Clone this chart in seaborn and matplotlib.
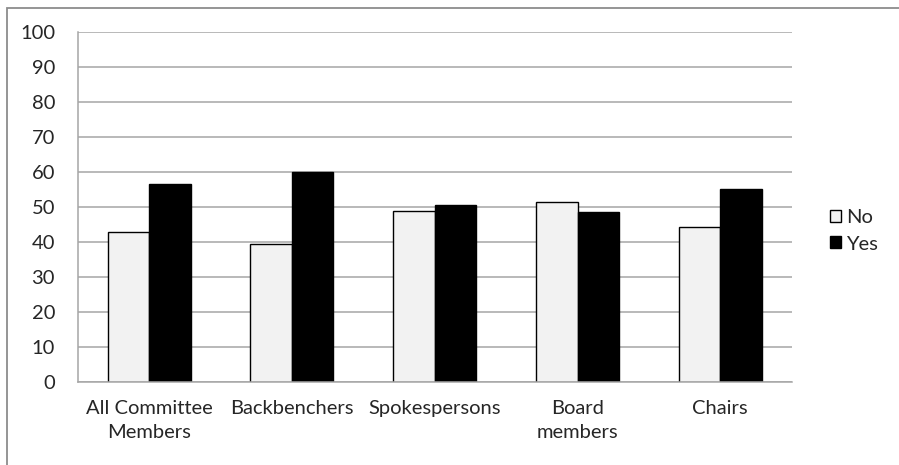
import matplotlib
matplotlib.use("Agg")
import matplotlib.pyplot as plt
from matplotlib.patches import Rectangle, Patch
import seaborn as sns
import pandas as pd

categories = ["All Committee\nMembers", "Backbenchers", "Spokespersons", "Board\nmembers", "Chairs"]
no_values = [42.9, 39.4, 48.9, 51.4, 44.4]
yes_values = [56.6, 60.1, 50.6, 48.6, 55.1]
series = ["No", "Yes"]
y_ticks = list(range(0, 101, 10))

df = pd.DataFrame({
    "category": categories * 2,
    "value": no_values + yes_values,
    "answer": [series[0]] * len(categories) + [series[1]] * len(categories),
})

sns.set_style("white")
plt.rcParams["font.family"] = ["Lato", "DejaVu Sans"]

W, H = 899, 465
fig = plt.figure(figsize=(W / 100, H / 100), dpi=100)
ax = fig.add_axes([77.7 / W, 1 - 381.7 / H, (791.7 - 77.7) / W, (381.7 - 32.3) / H])

palette = {"No": "#f2f2f2", "Yes": "#000000"}
sns.barplot(data=df, x="category", y="value", hue="answer", order=categories,
            hue_order=series, palette=palette, width=0.58, gap=0,
            edgecolor="black", linewidth=1.0, saturation=1, legend=False, ax=ax)

grid_color = "#a6a6a6"
fs = 14.5
ax.set_ylim(0, 100)
ax.set_xlim(-0.5, len(categories) - 0.5)
ax.set_yticks(y_ticks)
ax.set_yticklabels([str(v) for v in y_ticks], fontsize=fs)
ax.yaxis.grid(True, color=grid_color, linewidth=1.1)
ax.set_axisbelow(True)
ax.set_xticks([i - 0.5 for i in range(len(categories) + 1)], minor=False)
ax.set_xticklabels([])
ax.set_xticks(range(len(categories)), minor=True)
ax.set_xticklabels(categories, minor=True, fontsize=fs, linespacing=1.5)
ax.tick_params(axis="x", which="major", length=4.5, width=1.1, color=grid_color, direction="out")
ax.tick_params(axis="x", which="minor", length=0, pad=13)
ax.tick_params(axis="y", length=4.8, width=1.1, color=grid_color, pad=11.5)
ax.set_xlabel("")
ax.set_ylabel("")
for s in ("top", "right"):
    ax.spines[s].set_visible(False)
for s in ("left", "bottom"):
    ax.spines[s].set_color(grid_color)
    ax.spines[s].set_linewidth(1.1)

handles = [Patch(facecolor=palette[s], edgecolor="black", linewidth=1.0) for s in series]
fig.legend(handles, series, loc="center left", bbox_to_anchor=(830 / W, 1 - 231 / H),
           frameon=False, fontsize=fs, handlelength=0.55, handleheight=0.55,
           handletextpad=0.25, labelspacing=0.45, borderaxespad=0, borderpad=0)

# Outer chart border
fig.patches.append(Rectangle((6.5 / W, -0.1), 1.2, 1 - 8.5 / H + 0.1, transform=fig.transFigure,
                             fill=False, edgecolor="#8c8c8c", linewidth=1.3))

fig.savefig("out.png", dpi=100)
